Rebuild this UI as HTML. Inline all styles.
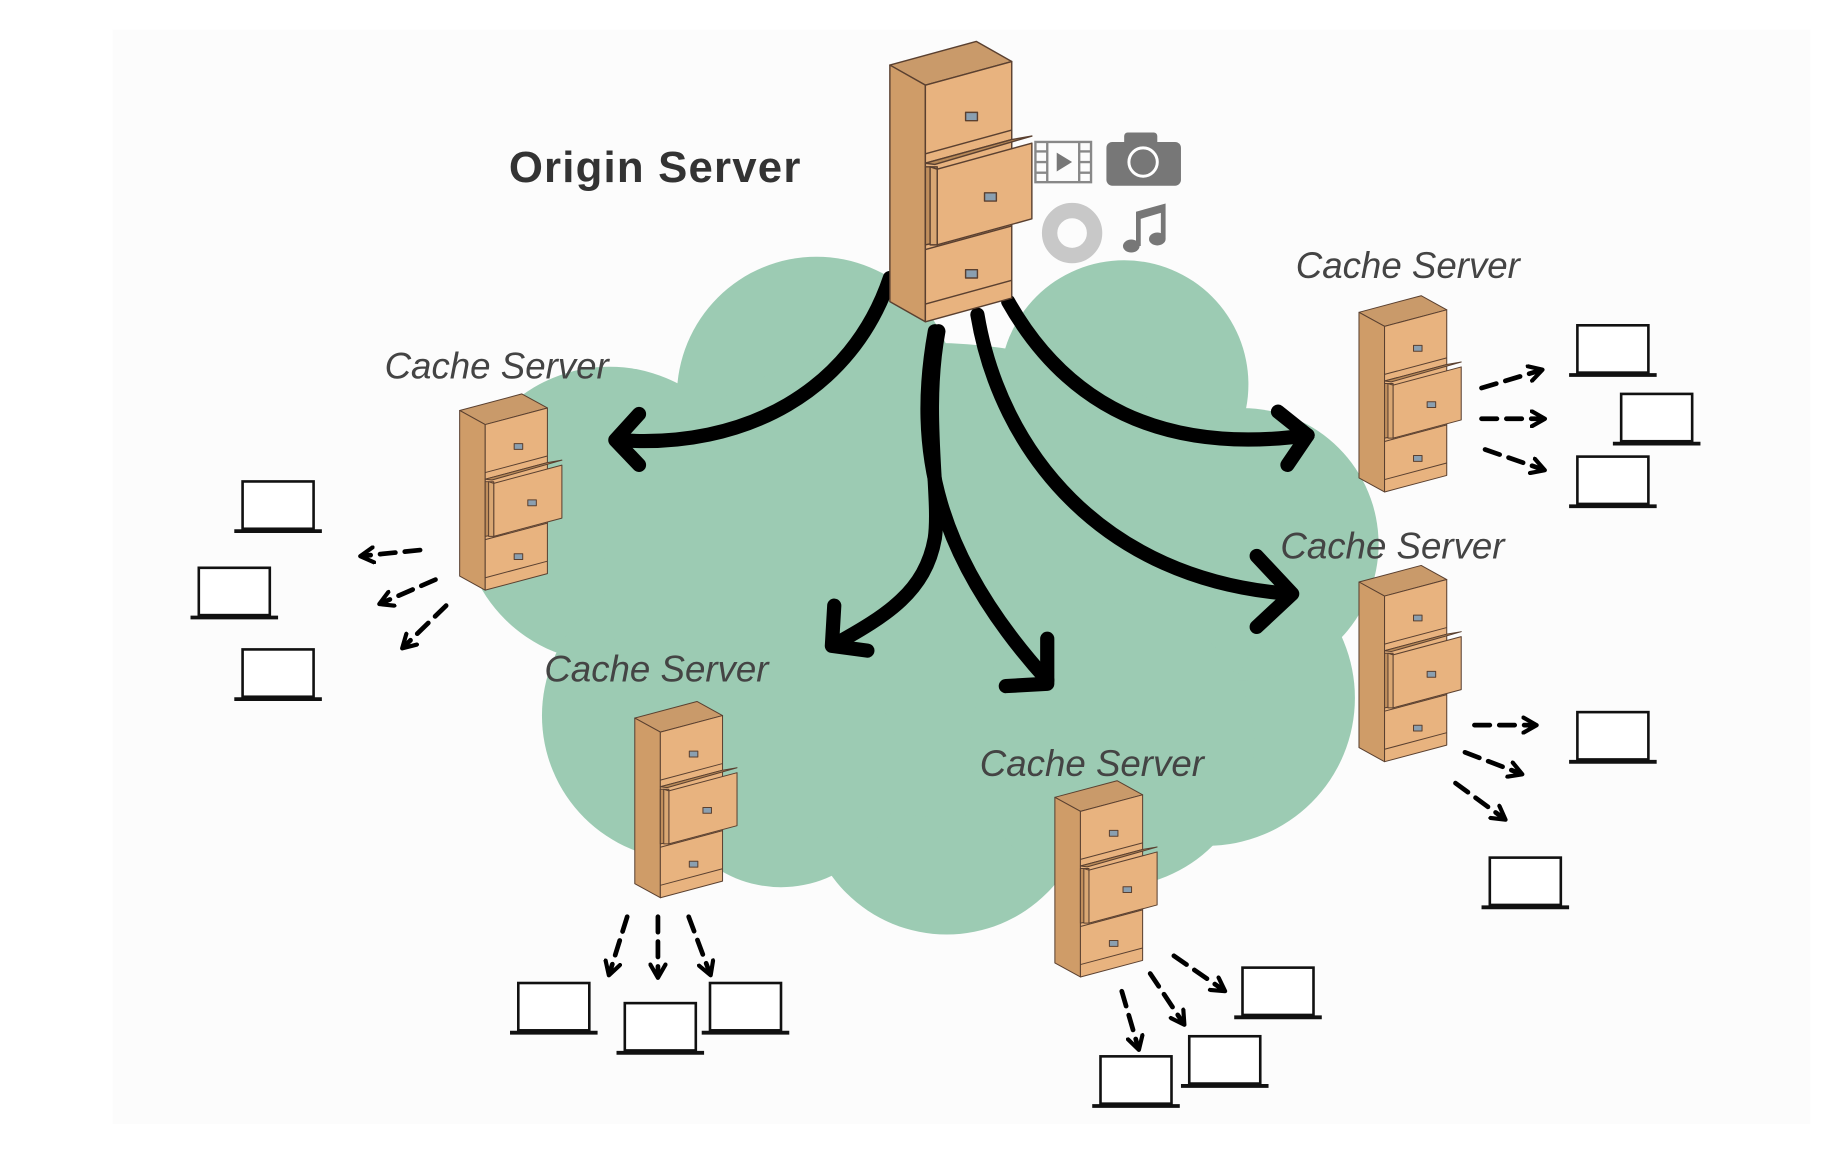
<!DOCTYPE html>
<html><head><meta charset="utf-8"><style>
html,body{margin:0;padding:0;background:#fff;}
svg{display:block;}
.lbl{font-family:"Liberation Sans","DejaVu Sans",sans-serif;font-style:italic;font-size:31px;fill:#444;}
</style></head><body>
<svg width="1846" height="1164" viewBox="0 0 1560 984" preserveAspectRatio="none" xmlns="http://www.w3.org/2000/svg">
<defs>
<g id="cab" stroke="#5a4030" stroke-width="1.2" stroke-linejoin="round">
  <polygon points="2,20 75,0 105,17 32,37" fill="#c99a6a"/>
  <polygon points="2,20 32,37 32,237 2,220" fill="#cf9c68"/>
  <polygon points="32,37 105,17 105,217 32,237" fill="#e8b37f"/>
  <line x1="32" y1="95" x2="105" y2="75"/>
  <line x1="32" y1="103" x2="105" y2="83"/>
  <line x1="32" y1="168" x2="105" y2="148"/>
  <line x1="32" y1="176" x2="105" y2="156"/>
  <line x1="32" y1="222" x2="105" y2="202"/>
  <polygon points="32,103 105,83 122,80 40,104" fill="#b88958"/>
  <polygon points="32,106 42,106 42,170 32,172" fill="#c08e5c"/>
  <polygon points="42,108 122,86 122,150 42,172" fill="#e8b37f"/>
  <polygon points="36,106 42,108 42,172 36,172" fill="#d9a773"/>
  <rect x="66" y="60" width="10" height="7" fill="#8a9fb0"/>
  <rect x="82" y="128" width="10" height="7" fill="#8a9fb0"/>
  <rect x="66" y="193" width="10" height="7" fill="#8a9fb0"/>
</g>
<g id="lap" fill="none" stroke="#111">
  <rect x="0" y="0" width="60" height="40" stroke-width="2.2" fill="#fff"/>
  <line x1="-7" y1="42" x2="67" y2="42" stroke-width="3.2"/>
</g>
<marker id="ah" viewBox="0 0 10 10" refX="7" refY="5" markerWidth="4" markerHeight="4" orient="auto" markerUnits="strokeWidth">
  <path d="M1,1 L8,5 L1,9" fill="none" stroke="#000" stroke-width="2.2" stroke-linecap="round" stroke-linejoin="round"/>
</marker>
</defs>
<rect width="1560" height="984" fill="#fff"/>
<rect x="95" y="25" width="1435" height="925" fill="#fcfcfc"/>

<!-- cloud -->
<g fill="#9ccbb3">
  <circle cx="690" cy="335" r="118"/>
  <circle cx="950" cy="325" r="105"/>
  <circle cx="515" cy="435" r="125"/>
  <circle cx="580" cy="605" r="122"/>
  <circle cx="800" cy="670" r="120"/>
  <circle cx="1020" cy="590" r="125"/>
  <circle cx="1050" cy="460" r="115"/>
  <ellipse cx="790" cy="490" rx="280" ry="200"/>
  <circle cx="940" cy="630" r="120"/>
  <circle cx="660" cy="650" r="100"/>
</g>

<!-- big arrows -->
<g fill="none" stroke="#000" stroke-width="12" stroke-linecap="round" stroke-linejoin="round">
  <path d="M752,235 C720,330 630,380 522,372"/>
  <path d="M540,350 L520,372 L540,393"/>
  <path d="M793,280 C780,350 795,420 790,455 C782,500 750,520 705,545"/>
  <path d="M705,512 L703,546 L733,550"/>
  <path d="M790,280 C772,380 790,470 885,575"/>
  <path d="M885,540 L885,578 L850,580"/>
  <path d="M826,266 C845,380 930,490 1090,502"/>
  <path d="M1062,470 L1092,502 L1062,530"/>
  <path d="M852,255 C900,340 980,385 1105,368"/>
  <path d="M1080,348 L1105,368 L1088,393"/>
</g>

<!-- origin cabinet -->
<use href="#cab" transform="translate(750,35)"/>
<text x="430" y="154" font-family="Liberation Sans, sans-serif" font-weight="bold" font-size="37" letter-spacing="1" fill="#333">Origin Server</text>

<!-- media icons -->
<g stroke="#888" stroke-width="2" fill="none">
  <rect x="875" y="120" width="47" height="34"/>
  <line x1="885" y1="120" x2="885" y2="154"/><line x1="912" y1="120" x2="912" y2="154"/>
  <line x1="875" y1="128" x2="885" y2="128"/><line x1="875" y1="137" x2="885" y2="137"/><line x1="875" y1="146" x2="885" y2="146"/>
  <line x1="912" y1="128" x2="922" y2="128"/><line x1="912" y1="137" x2="922" y2="137"/><line x1="912" y1="146" x2="922" y2="146"/>
</g>
<polygon points="893,129 893,145 906,137" fill="#777"/>
<rect x="935" y="120" width="63" height="37" rx="5" fill="#777"/>
<rect x="950" y="112" width="28" height="12" rx="3" fill="#777"/>
<circle cx="966" cy="137" r="12" fill="none" stroke="#fff" stroke-width="2.5"/>
<circle cx="906" cy="197" r="19" fill="none" stroke="#c8c8c8" stroke-width="13"/>
<g fill="#777">
  <ellipse cx="956" cy="208" rx="7" ry="5.5"/>
  <ellipse cx="978" cy="202" rx="7" ry="5.5"/>
  <polygon points="960,208 964,208 964,185 981,180 981,202 985,202 985,172 960,179"/>
</g>

<!-- cache cabinets and labels -->
<use href="#cab" transform="translate(387,333) scale(0.72 0.7)"/>
<use href="#cab" transform="translate(1147,250) scale(0.72 0.7)"/>
<use href="#cab" transform="translate(1147,478) scale(0.72 0.7)"/>
<use href="#cab" transform="translate(535,593) scale(0.72 0.7)"/>
<use href="#cab" transform="translate(890,660) scale(0.72 0.7)"/>
<text class="lbl" x="325" y="320">Cache Server</text>
<text class="lbl" x="1095" y="235">Cache Server</text>
<text class="lbl" x="1082" y="472">Cache Server</text>
<text class="lbl" x="460" y="576">Cache Server</text>
<text class="lbl" x="828" y="656">Cache Server</text>

<!-- laptops -->
<use href="#lap" transform="translate(205,407)"/>
<use href="#lap" transform="translate(168,480)"/>
<use href="#lap" transform="translate(205,549)"/>
<use href="#lap" transform="translate(1333,275)"/>
<use href="#lap" transform="translate(1370,333)"/>
<use href="#lap" transform="translate(1333,386)"/>
<use href="#lap" transform="translate(1333,602)"/>
<use href="#lap" transform="translate(1259,725)"/>
<use href="#lap" transform="translate(438,831)"/>
<use href="#lap" transform="translate(528,848)"/>
<use href="#lap" transform="translate(600,831)"/>
<use href="#lap" transform="translate(1050,818)"/>
<use href="#lap" transform="translate(1005,876)"/>
<use href="#lap" transform="translate(930,893)"/>

<!-- dashed arrows -->
<g stroke="#000" stroke-width="4" stroke-dasharray="13 8" fill="none" stroke-linecap="round" marker-end="url(#ah)">
  <line x1="355" y1="465" x2="306" y2="470"/>
  <line x1="368" y1="490" x2="322" y2="510"/>
  <line x1="377" y1="512" x2="341" y2="547"/>
  <line x1="1252" y1="328" x2="1302" y2="313"/>
  <line x1="1252" y1="354" x2="1304" y2="354"/>
  <line x1="1255" y1="380" x2="1304" y2="397"/>
  <line x1="1246" y1="613" x2="1297" y2="613"/>
  <line x1="1238" y1="636" x2="1285" y2="654"/>
  <line x1="1230" y1="662" x2="1271" y2="692"/>
  <line x1="530" y1="775" x2="515" y2="823"/>
  <line x1="556" y1="775" x2="556" y2="825"/>
  <line x1="582" y1="775" x2="600" y2="823"/>
  <line x1="992" y1="808" x2="1034" y2="837"/>
  <line x1="972" y1="823" x2="1000" y2="865"/>
  <line x1="948" y1="838" x2="962" y2="886"/>
</g>
</svg>
</body></html>
